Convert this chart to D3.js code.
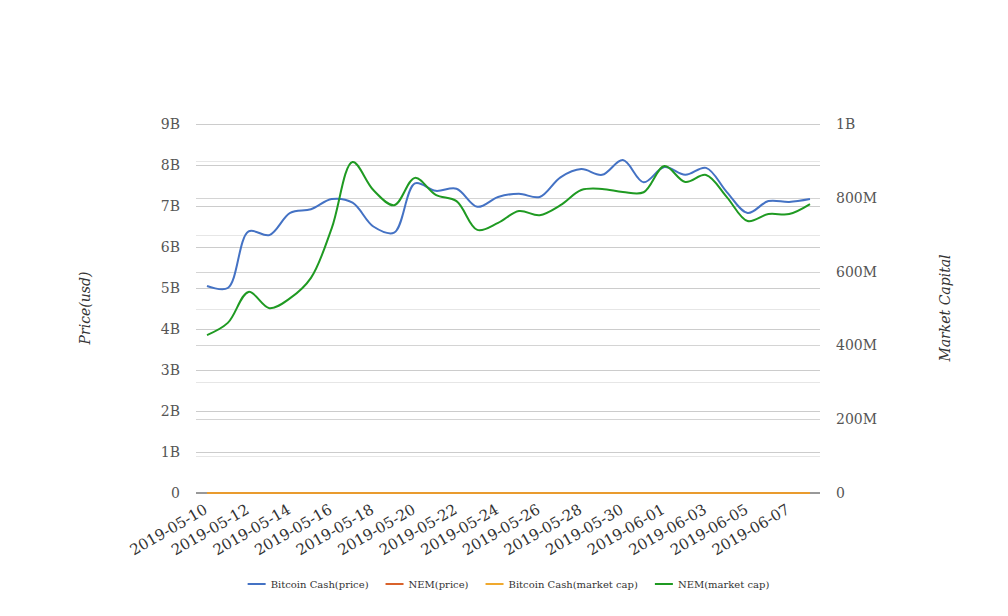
<!DOCTYPE html>
<html>
<head>
<meta charset="utf-8">
<script src="https://cdn.jsdelivr.net/npm/d3@7"></script>
<style>
  html, body { margin: 0; padding: 0; background: #fff; }
  svg { display: block; font-family: "DejaVu Serif", serif; }
</style>
</head>
<body>
<svg id="chart" width="1008" height="616"></svg>
<script>
// ---- data ----
const dates = ["2019-05-10","2019-05-11","2019-05-12","2019-05-13","2019-05-14","2019-05-15","2019-05-16","2019-05-17","2019-05-18","2019-05-19",
               "2019-05-20","2019-05-21","2019-05-22","2019-05-23","2019-05-24","2019-05-25","2019-05-26","2019-05-27","2019-05-28","2019-05-29",
               "2019-05-30","2019-05-31","2019-06-01","2019-06-02","2019-06-03","2019-06-04","2019-06-05","2019-06-06","2019-06-07","2019-06-08"];
const bchPrice = [5.05e9,5.0e9,6.38e9,6.29e9,6.83e9,6.92e9,7.17e9,7.08e9,6.5e9,6.35e9,
                  7.55e9,7.37e9,7.42e9,6.98e9,7.22e9,7.3e9,7.22e9,7.7e9,7.9e9,7.76e9,
                  8.12e9,7.58e9,7.95e9,7.76e9,7.93e9,7.34e9,6.83e9,7.12e9,7.1e9,7.17e9];
const nemPrice = [0.047,0.049,0.058,0.055,0.058,0.063,0.075,0.098,0.090,0.086,
                  0.094,0.089,0.087,0.079,0.081,0.084,0.083,0.086,0.090,0.091,
                  0.090,0.090,0.097,0.093,0.095,0.088,0.081,0.083,0.083,0.086];
const bchMarketCap = [285,284,362,357,388,393,407,402,369,361,
                      429,419,422,397,410,415,410,437,448,440,
                      461,430,451,440,450,417,388,404,403,407];
const nemMarketCap = [428e6,461e6,545e6,501e6,528e6,583e6,718e6,897e6,821e6,780e6,
                      854e6,808e6,791e6,713e6,732e6,764e6,753e6,780e6,821e6,824e6,
                      816e6,815e6,886e6,843e6,862e6,802e6,737e6,756e6,756e6,783e6];
const leftTicks = [0,1e9,2e9,3e9,4e9,5e9,6e9,7e9,8e9,9e9];
const leftTickLabels = ["0","1B","2B","3B","4B","5B","6B","7B","8B","9B"];
const rightTicks = [0,2e8,4e8,6e8,8e8,1e9];
const rightTickLabels = ["0","200M","400M","600M","800M","1B"];
const rightMinorTicks = [1e8,3e8,5e8,7e8,9e8];
const seriesNames = ["Bitcoin Cash(price)","NEM(price)","Bitcoin Cash(market cap)","NEM(market cap)"];
const seriesColors = ["#4472c4","#d9622b","#f0a92e","#1f9a22"];

// ---- layout ----
const svg = d3.select("#chart");
const gridX0 = 196, gridX1 = 820;
const x = d3.scaleLinear().domain([0, dates.length - 1]).range([207, 810]);
const yL = d3.scaleLinear().domain([0, 9e9]).range([493, 124]);
const yR = d3.scaleLinear().domain([0, 1e9]).range([493, 124]);

// gridlines
const grid = svg.append("g");
grid.selectAll("line.rmin").data(rightMinorTicks).join("line")
  .attr("x1", gridX0).attr("x2", gridX1)
  .attr("y1", d => Math.round(yR(d)) + 0.5).attr("y2", d => Math.round(yR(d)) + 0.5)
  .attr("stroke", "#e6e6e6").attr("stroke-width", 1);
grid.selectAll("line.r").data(rightTicks.filter(d => d > 0)).join("line")
  .attr("x1", gridX0).attr("x2", gridX1)
  .attr("y1", d => Math.round(yR(d)) + 0.5).attr("y2", d => Math.round(yR(d)) + 0.5)
  .attr("stroke", "#d4d4d4").attr("stroke-width", 1);
grid.selectAll("line.l").data(leftTicks.filter(d => d > 0)).join("line")
  .attr("x1", gridX0).attr("x2", gridX1)
  .attr("y1", d => Math.round(yL(d)) + 0.5).attr("y2", d => Math.round(yL(d)) + 0.5)
  .attr("stroke", "#cccccc").attr("stroke-width", 1);

// zero axis line
svg.append("line").attr("x1", gridX0).attr("x2", gridX1)
  .attr("y1", yL(0)).attr("y2", yL(0)).attr("stroke", "#333").attr("stroke-width", 1);

// left tick labels
svg.append("g").selectAll("text").data(leftTicks).join("text")
  .attr("x", 180).attr("y", d => yL(d)).attr("dy", "0.35em")
  .attr("text-anchor", "end").attr("font-size", 14).attr("fill", "#555")
  .text((d, i) => leftTickLabels[i]);

// right tick labels
svg.append("g").selectAll("text").data(rightTicks).join("text")
  .attr("x", 836).attr("y", d => yR(d)).attr("dy", "0.35em")
  .attr("text-anchor", "start").attr("font-size", 14).attr("fill", "#555")
  .text((d, i) => rightTickLabels[i]);

// x tick labels (every 2 days)
const xIdx = d3.range(0, dates.length, 2).filter(i => i <= 28);
svg.append("g").selectAll("text").data(xIdx).join("text")
  .attr("transform", i => `translate(${x(i) - 1},508) rotate(-30)`)
  .attr("dy", "0.35em")
  .attr("text-anchor", "end").attr("font-size", 15).attr("fill", "#333")
  .text(i => dates[i]);

// axis titles
svg.append("text").attr("transform", "translate(90,308) rotate(-90)")
  .attr("text-anchor", "middle").attr("font-size", 14).attr("font-style", "italic").attr("fill", "#333")
  .text("Price(usd)");
svg.append("text").attr("transform", "translate(950,308) rotate(-90)")
  .attr("text-anchor", "middle").attr("font-size", 14).attr("font-style", "italic").attr("fill", "#333")
  .text("Market Capital");

// lines
const curve = d3.curveCatmullRom.alpha(0.5);
const lineL = d3.line().x((d, i) => x(i)).y(d => yL(d)).curve(curve);
const lineR = d3.line().x((d, i) => x(i)).y(d => yR(d)).curve(curve);
const plot = svg.append("g").attr("fill", "none").attr("stroke-width", 2);
plot.append("path").datum(bchPrice).attr("d", lineL).attr("stroke", seriesColors[0]);
plot.append("path").datum(nemPrice).attr("d", lineL).attr("stroke", seriesColors[1]);
plot.append("path").datum(bchMarketCap).attr("d", lineR).attr("stroke", "#e99b2e");
plot.append("path").datum(nemMarketCap).attr("d", lineR).attr("stroke", seriesColors[3]);

// legend
const legend = svg.append("g");
const items = legend.selectAll("g").data(seriesNames).join("g");
items.append("line").attr("x1", 0).attr("x2", 18).attr("y1", 0).attr("y2", 0)
  .attr("stroke", (d, i) => seriesColors[i]).attr("stroke-width", 2);
items.append("text").attr("x", 23).attr("y", 0).attr("dy", "0.35em")
  .attr("font-size", 10).attr("fill", "#333").text(d => d);
let cx = 0;
const offs = [];
items.each(function() {
  offs.push(cx);
  const w = 23 + d3.select(this).select("text").node().getComputedTextLength();
  cx += w + 17;
});
const total = cx - 17;
const startX = 508.5 - total / 2;
items.attr("transform", (d, i) => `translate(${startX + offs[i]},584)`);
</script>
</body>
</html>
